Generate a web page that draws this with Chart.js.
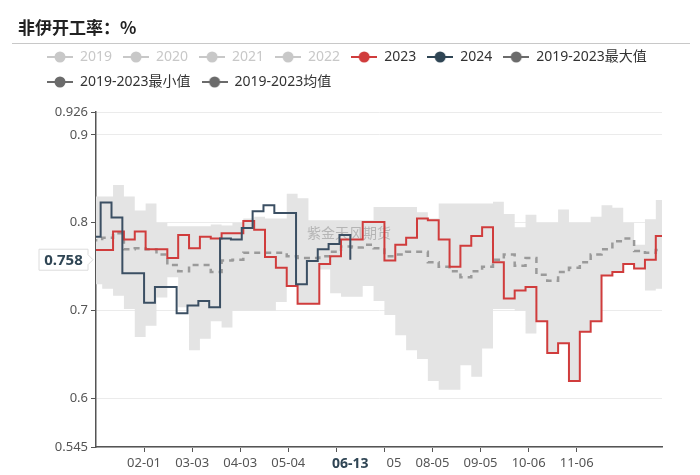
<!DOCTYPE html>
<html>
<head>
<meta charset="utf-8">
<script src="https://cdn.jsdelivr.net/npm/chart.js@4.4.1/dist/chart.umd.min.js"></script>
<style>
html, body { margin: 0; padding: 0; background: #fff; }
#wrap { position: relative; width: 700px; height: 475px; }
#c { position: absolute; left: 0; top: 0; }
#title { position: absolute; left: 18px; top: 14px; line-height: 22px; font: bold 17px "Noto Sans CJK SC", sans-serif; color: #222; }
#rule { position: absolute; left: 12px; width: 678px; top: 43px; border-top: 1px solid #c8c8c8; }
</style>
</head>
<body>
<div id="wrap">
  <canvas id="c" width="700" height="475" style="width:700px;height:475px"></canvas>
  <div id="title">非伊开工率：%</div>
  <div id="rule"></div>
</div>
<script>
// weekly (Thursday) series, first week given as day of the axis year
const start2023 = -3;   // 2022-12-29
const start2024 = -4;   // 2023-12-28
const stepDays = 7;

const values2023 = [0.769,0.769,0.790,0.781,0.790,0.770,0.770,0.760,0.786,0.771,
  0.784,0.782,0.788,0.788,0.802,0.792,0.761,0.749,0.728,0.708,
  0.708,0.753,0.762,0.781,0.781,0.801,0.801,0.757,0.775,0.783,
  0.805,0.803,0.781,0.750,0.774,0.785,0.795,0.755,0.714,0.723,
  0.727,0.688,0.652,0.663,0.620,0.676,0.688,0.740,0.744,0.753,
  0.748,0.758,0.785,0.785];

const values2024 = [0.784,0.823,0.806,0.7425,0.7425,0.709,0.727,0.727,0.697,0.706,
  0.711,0.704,0.782,0.781,0.794,0.813,0.820,0.811,0.811,0.730,
  0.7565,0.770,0.776,0.786,0.758];

const max5y = [0.830,0.830,0.843,0.830,0.814,0.822,0.800,0.796,0.796,0.796,
  0.796,0.798,0.797,0.800,0.805,0.807,0.805,0.805,0.833,0.828,
  0.803,0.803,0.803,0.803,0.803,0.803,0.818,0.818,0.818,0.818,
  0.812,0.805,0.822,0.822,0.822,0.822,0.822,0.824,0.810,0.795,
  0.809,0.800,0.800,0.815,0.800,0.800,0.807,0.820,0.817,0.800,
  0.775,0.804,0.826,0.826];

const min5y = [0.730,0.725,0.717,0.702,0.670,0.683,0.715,0.738,0.704,0.655,
  0.668,0.688,0.681,0.700,0.700,0.700,0.700,0.710,0.728,0.708,
  0.708,0.747,0.720,0.716,0.716,0.728,0.711,0.695,0.672,0.655,
  0.645,0.620,0.610,0.610,0.638,0.625,0.657,0.702,0.702,0.700,
  0.674,0.688,0.652,0.663,0.620,0.676,0.688,0.740,0.744,0.753,
  0.748,0.723,0.725,0.725];

const avg5y = [0.780,0.783,0.788,0.770,0.771,0.770,0.764,0.752,0.745,0.752,
  0.752,0.744,0.757,0.758,0.766,0.766,0.766,0.766,0.762,0.760,
  0.760,0.762,0.767,0.773,0.772,0.775,0.771,0.762,0.764,0.767,
  0.767,0.755,0.750,0.745,0.738,0.745,0.750,0.758,0.764,0.751,
  0.760,0.741,0.734,0.744,0.749,0.755,0.764,0.770,0.779,0.782,
  0.768,0.766,0.769,0.769];

const xTickLabels = ['02-01','03-03','04-03','05-04','06-04','07-05','08-05','09-05','10-06','11-06'];
const yTicks = [0.545, 0.6, 0.7, 0.8, 0.9, 0.926];

const legendNames = ['2019','2020','2021','2022','2023','2024','2019-2023最大值','2019-2023最小值','2019-2023均值'];
const legendShown = [false,false,false,false,true,true,true,true,true];
const legendColors = ['#c8c8c8','#c8c8c8','#c8c8c8','#c8c8c8','#d03c3c','#2f4554','#6b6b6b','#6b6b6b','#6b6b6b'];

const pointerDate = '06-13';
const pointerValue = 0.758;
const watermark = '紫金天风期货';

const monthDays = [31,29,31,30,31,30,31,31,30,31,30,31];
function dayOf(md) {
  const [m, d] = md.split('-').map(Number);
  let n = 0;
  for (let i = 0; i < m - 1; i++) n += monthDays[i];
  return n + d - 1;
}
const tickLabelByDay = {};
xTickLabels.forEach(l => { tickLabelByDay[dayOf(l)] = l; });

function toPoints(start, vals) {
  return vals.map((v, i) => ({x: start + i * stepDays, y: v}));
}

function makeIcon(color) {
  const c = document.createElement('canvas');
  c.width = 26; c.height = 14;
  const g = c.getContext('2d');
  g.strokeStyle = color; g.lineWidth = 2;
  g.beginPath(); g.moveTo(0, 7); g.lineTo(26, 7); g.stroke();
  g.fillStyle = color;
  g.beginPath(); g.arc(13, 7, 5.5, 0, Math.PI * 2); g.fill();
  return c;
}

const FONT = '"Noto Sans", "Noto Sans CJK SC", sans-serif';
Chart.defaults.font.family = FONT;

const overlay = {
  id: 'overlay',
  afterDatasetDraw(chart, args) {
    if (args.index !== 3) return;
    const {ctx, chartArea: a} = chart;
    ctx.save();
    ctx.font = '14px "Noto Sans CJK SC"';
    ctx.fillStyle = 'rgba(150,150,150,0.6)';
    ctx.textAlign = 'center';
    ctx.textBaseline = 'middle';
    ctx.fillText(watermark, a.left + a.width * 0.447, a.top + a.height * 0.36);
    ctx.restore();
  },
  afterDraw(chart) {
    const {ctx, chartArea: a, scales: {x, y}} = chart;
    ctx.save();
    // y axis pointer label
    const cy = y.getPixelForValue(pointerValue);
    const tip = a.left - 3, bw = 49, bh = 21, br = tip - 5, bl = br - bw;
    ctx.beginPath();
    ctx.moveTo(bl, cy - bh / 2);
    ctx.lineTo(br, cy - bh / 2);
    ctx.lineTo(br, cy - 5);
    ctx.lineTo(tip, cy);
    ctx.lineTo(br, cy + 5);
    ctx.lineTo(br, cy + bh / 2);
    ctx.lineTo(bl, cy + bh / 2);
    ctx.closePath();
    ctx.fillStyle = '#fff';
    ctx.fill();
    ctx.strokeStyle = '#dcdcdc';
    ctx.lineWidth = 1;
    ctx.stroke();
    ctx.fillStyle = '#2f4554';
    ctx.font = 'bold 15px ' + FONT;
    ctx.textAlign = 'center';
    ctx.textBaseline = 'middle';
    ctx.fillText(String(pointerValue), (bl + br) / 2, cy + 1);
    // x axis pointer label
    const cx = x.getPixelForValue(dayOf(pointerDate));
    ctx.fillStyle = '#fff';
    ctx.fillRect(cx - 36, x.top + 6, 72, 22);
    ctx.fillStyle = '#2f4554';
    ctx.font = 'bold 14px ' + FONT;
    ctx.fillText(pointerDate, cx, x.top + 17);
    ctx.restore();
  }
};

new Chart(document.getElementById('c'), {
  type: 'line',
  data: {
    datasets: [
      {
        label: '2024',
        data: toPoints(start2024, values2024),
        borderColor: '#3b4f63',
        borderWidth: 2,
        stepped: true,
        pointRadius: 0,
        fill: false,
        clip: 0
      },
      {
        label: '2023',
        data: toPoints(start2023, values2023),
        borderColor: '#d03c3c',
        borderWidth: 2,
        stepped: true,
        pointRadius: 0,
        fill: false,
        clip: 0
      },
      {
        label: '2019-2023均值',
        data: toPoints(start2023, avg5y),
        borderColor: '#9a9a9a',
        borderWidth: 2.5,
        borderDash: [6, 5],
        stepped: true,
        pointRadius: 0,
        fill: false,
        clip: 0
      },
      {
        label: '2019-2023最大值',
        data: toPoints(start2023, max5y),
        borderWidth: 0,
        borderColor: 'rgba(0,0,0,0)',
        backgroundColor: '#e4e4e4',
        stepped: true,
        pointRadius: 0,
        fill: {target: 4},
        clip: 0
      },
      {
        label: '2019-2023最小值',
        data: toPoints(start2023, min5y),
        borderWidth: 0,
        borderColor: 'rgba(0,0,0,0)',
        stepped: true,
        pointRadius: 0,
        fill: false,
        clip: 0
      }
    ]
  },
  options: {
    responsive: false,
    animation: false,
    layout: {padding: {left: 36, right: 38, top: 39, bottom: 0}},
    plugins: {
      tooltip: {enabled: false},
      legend: {
        position: 'top',
        align: 'start',
        onClick: () => {},
        labels: {
          usePointStyle: true,
          pointStyleWidth: 26,
          padding: 11,
          font: {size: 14, family: FONT},
          generateLabels: () => legendNames.map((name, i) => ({
            text: name,
            fillStyle: legendColors[i],
            strokeStyle: legendColors[i],
            lineWidth: 0,
            hidden: false,
            pointStyle: makeIcon(legendColors[i]),
            fontColor: legendShown[i] ? '#333' : '#c8c8c8'
          }))
        }
      }
    },
    scales: {
      x: {
        type: 'linear',
        min: 0,
        max: 365,
        afterBuildTicks: s => { s.ticks = xTickLabels.map(l => ({value: dayOf(l)})); },
        afterFit: s => { s.height = 28; },
        ticks: {
          autoSkip: false,
          maxRotation: 0,
          padding: 3,
          color: '#555',
          font: {size: 13},
          callback: v => tickLabelByDay[v] || ''
        },
        grid: {display: true, drawOnChartArea: false, drawTicks: true, tickLength: 5, tickColor: '#555'},
        border: {display: true, color: '#555', width: 1.5}
      },
      xTop: {
        type: 'linear',
        position: 'top',
        min: 0,
        max: 365,
        afterFit: s => { s.height = 13; },
        ticks: {display: false},
        grid: {display: false},
        border: {display: false}
      },
      y: {
        type: 'linear',
        min: 0.545,
        max: 0.926,
        afterBuildTicks: s => { s.ticks = yTicks.map(v => ({value: v})); },
        afterFit: s => { s.width = 60; },
        ticks: {
          padding: 3,
          color: '#555',
          font: {size: 13},
          callback: v => String(v)
        },
        grid: {color: '#ebebeb', tickColor: '#555', tickLength: 5},
        border: {display: true, color: '#555', width: 1.5}
      }
    }
  },
  plugins: [overlay]
});
</script>
</body>
</html>
